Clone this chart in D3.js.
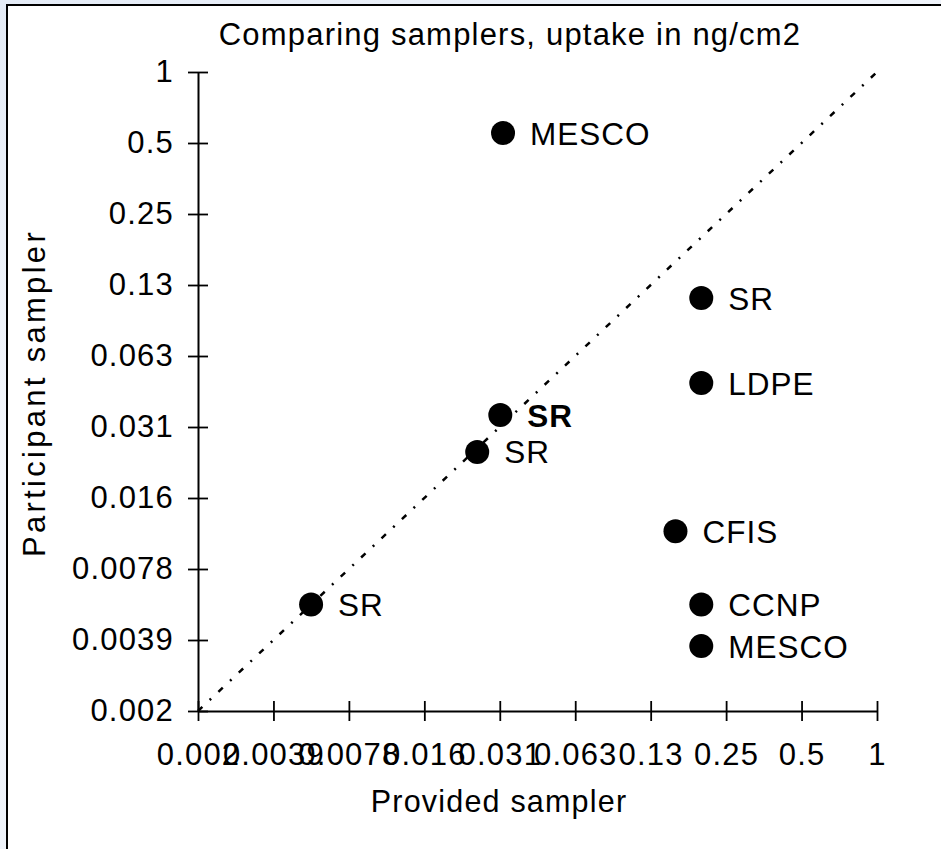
<!DOCTYPE html>
<html>
<head>
<meta charset="utf-8">
<script src="https://cdn.jsdelivr.net/npm/d3@7"></script>
<style>
  html, body { margin: 0; padding: 0; }
  body {
    width: 941px; height: 849px; overflow: hidden;
    background: linear-gradient(160deg, #e4ebf6 0%, #f4f7fc 40%, #eaf0f8 100%);
  }
  svg text { font-family: Arial, "Liberation Sans", sans-serif; fill: #000; }
</style>
</head>
<body>
<svg id="chart"></svg>
<script>
// tick values are powers of two, labels as printed on the chart
const tickValues = [1/512, 1/256, 1/128, 1/64, 1/32, 1/16, 1/8, 1/4, 1/2, 1];
const tickLabels = ["0.002", "0.0039", "0.0078", "0.016", "0.031", "0.063", "0.13", "0.25", "0.5", "1"];

// samplers: provided (x) vs participant (y)
const names       = ["MESCO", "SR", "LDPE", "CFIS", "CCNP", "MESCO", "SR", "SR", "SR"];
const provided    = [0.0322, 0.199, 0.199, 0.157, 0.199, 0.199, 0.0314, 0.0254, 0.00552];
const participant = [0.551, 0.110, 0.048, 0.0113, 0.00552, 0.00368, 0.0351, 0.0245, 0.00552];
const boldLabel   = [false, false, false, false, false, false, true, false, false];

const data = names.map((n, i) => ({name: n, x: provided[i], y: participant[i], bold: boldLabel[i]}));

const width = 941, height = 849;
const svg = d3.select('#chart')
    .attr('width', width)
    .attr('height', height);

// white plot frame, runs off the right and bottom edge
svg.append('rect')
    .attr('x', 7).attr('y', 5)
    .attr('width', 1000).attr('height', 900)
    .attr('fill', '#fff')
    .attr('stroke', '#000')
    .attr('stroke-width', 2);

const xScale = d3.scaleLog().base(2)
    .domain([1/512, 1])
    .range([198, 877]);
const yScale = d3.scaleLog().base(2)
    .domain([1/512, 1])
    .range([711, 72]);

const fontSize = 31;
const spacing = '1.2px';

// Add X axis
const xAxis = d3.axisBottom(xScale)
    .tickValues(tickValues)
    .tickFormat((d, i) => tickLabels[i])
    .tickSizeInner(10)
    .tickSizeOuter(0)
    .tickPadding(22);
const xAxisGroup = svg.append('g')
    .attr('transform', `translate(0, ${yScale(1/512)})`)
    .call(xAxis);

// Add Y axis
const yAxis = d3.axisLeft(yScale)
    .tickValues(tickValues)
    .tickFormat((d, i) => tickLabels[i])
    .tickSizeInner(10)
    .tickSizeOuter(0)
    .tickPadding(14);
const yAxisGroup = svg.append('g')
    .attr('transform', `translate(${xScale(1/512)}, 0)`)
    .call(yAxis);

[xAxisGroup, yAxisGroup].forEach(g => {
    g.attr('font-size', null).attr('font-family', null);
    g.select('.domain').attr('stroke', '#000').attr('stroke-width', 2);
    g.selectAll('.tick text')
        .style('font-size', fontSize + 'px')
        .style('letter-spacing', spacing);
    g.selectAll('.tick line').attr('stroke', '#000').attr('stroke-width', 1.8);
});
// ticks cross the axis line
xAxisGroup.selectAll('.tick line').attr('y1', -10).attr('y2', 10);
yAxisGroup.selectAll('.tick line').attr('x1', -10).attr('x2', 10);

// 1:1 line
const diag = [1/512, 1];
svg.append('path')
    .datum(diag)
    .attr('d', d3.line().x(d => xScale(d)).y(d => yScale(d)))
    .attr('fill', 'none')
    .attr('stroke', '#000')
    .attr('stroke-width', 2.5)
    .attr('stroke-dasharray', '6,10,2,10');

// Add dots
svg.append('g')
    .selectAll('circle')
    .data(data)
    .enter()
    .append('circle')
        .attr('cx', d => xScale(d.x))
        .attr('cy', d => yScale(d.y))
        .attr('r', 12)
        .attr('fill', '#000');

svg.append('g')
    .selectAll('text')
    .data(data)
    .enter()
    .append('text')
        .attr('x', d => xScale(d.x) + 27)
        .attr('y', d => yScale(d.y) + 11.5)
        .style('font-size', '31.5px')
        .style('letter-spacing', '1px')
        .style('font-weight', d => d.bold ? 'bold' : 'normal')
        .text(d => d.name);

// titles
svg.append('text')
    .attr('x', 510).attr('y', 45)
    .attr('text-anchor', 'middle')
    .style('font-size', fontSize + 'px')
    .style('letter-spacing', spacing)
    .text('Comparing samplers, uptake in ng/cm2');

svg.append('text')
    .attr('x', 499).attr('y', 812)
    .attr('text-anchor', 'middle')
    .style('font-size', '30.5px')
    .style('letter-spacing', spacing)
    .text('Provided sampler');

svg.append('text')
    .attr('transform', 'translate(45, 393) rotate(-90)')
    .attr('text-anchor', 'middle')
    .style('font-size', fontSize + 'px')
    .style('letter-spacing', '3.3px')
    .text('Participant sampler');
</script>
</body>
</html>
